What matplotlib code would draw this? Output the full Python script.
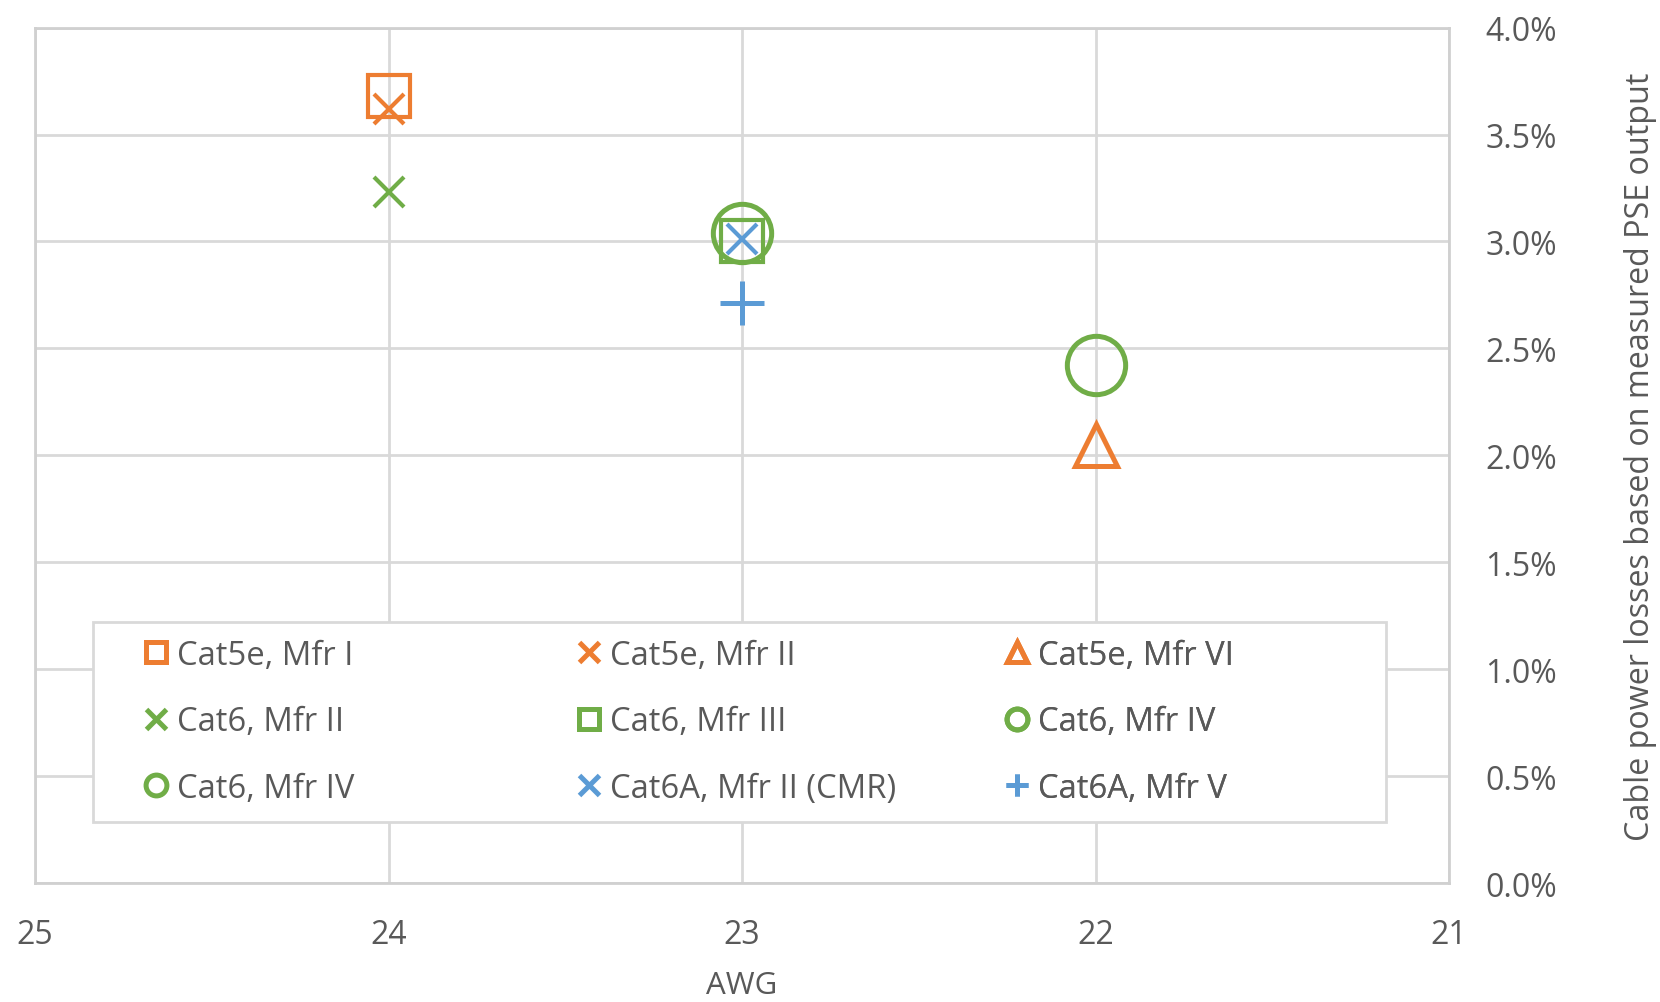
import matplotlib
matplotlib.use("Agg")
import matplotlib.pyplot as plt
from matplotlib.lines import Line2D
from matplotlib.patches import Rectangle

plt.rcParams['font.family'] = ['Open Sans', 'DejaVu Sans']

# Cable series: name, AWG, loss (% of measured PSE output)
series_names = ["Cat5e, Mfr I", "Cat5e, Mfr II", "Cat5e, Mfr VI",
                "Cat6, Mfr II", "Cat6, Mfr III", "Cat6, Mfr IV",
                "Cat6, Mfr IV", "Cat6A, Mfr II (CMR)", "Cat6A, Mfr V"]
awg = [24, 24, 22, 24, 23, 23, 22, 23, 23]
loss_pct = [3.68, 3.62, 2.05, 3.23, 3.00, 3.04, 2.42, 3.01, 2.71]

x_ticks = [25, 24, 23, 22, 21]
y_ticks = [0.0, 0.5, 1.0, 1.5, 2.0, 2.5, 3.0, 3.5, 4.0]

ORANGE = "#ED7D31"
GREEN = "#70AD47"
BLUE = "#5B9BD5"
TEXT = "#595959"
GRID = "#D9D9D9"

colors = [ORANGE, ORANGE, ORANGE, GREEN, GREEN, GREEN, GREEN, BLUE, BLUE]
markers = ["s", "x", "^", "x", "s", "o", "o", "x", "+"]
# marker sizes (pt) in the plot area and in the legend
plot_ms = [30, 22, 30, 22, 30, 42, 42, 22, 31]
leg_ms = [15, 15, 15, 15, 15, 15, 15, 15, 16]
mew_plot = [3.0, 3.0, 3.6, 3.0, 3.0, 3.6, 3.6, 3.0, 3.6]

fig = plt.figure(figsize=(16.6, 10.03), dpi=100)
ax = fig.add_axes([0.0211, 0.1186, 0.8518, 0.8529])

for name, xv, yv, c, m, ms, mw in zip(series_names, awg, loss_pct, colors,
                                      markers, plot_ms, mew_plot):
    ax.plot([xv], [yv], linestyle="none", marker=m, markersize=ms,
            markerfacecolor="none", markeredgecolor=c, markeredgewidth=mw,
            label=name, zorder=3)

ax.set_xlim(25, 21)
ax.set_ylim(0, 4)
ax.set_xticks(x_ticks)
ax.set_xticklabels([str(v) for v in x_ticks])
ax.set_yticks(y_ticks)
ax.set_yticklabels([f"{v:.1f}%" for v in y_ticks])
ax.yaxis.tick_right()
ax.grid(True, color=GRID, linewidth=2.0, zorder=0)
ax.set_axisbelow(True)
ax.tick_params(axis="both", length=0, labelsize=23, labelcolor=TEXT)
ax.tick_params(axis="y", pad=26)
ax.tick_params(axis="x", pad=25)
for sp in ax.spines.values():
    sp.set_color("#D0D0D0")
    sp.set_linewidth(2.0)

ax.set_xlabel("AWG", fontsize=22.5, color=TEXT)
ax.xaxis.label.set(va="baseline")
ax.xaxis.set_label_coords(0.5, -0.1280)
ax.set_ylabel("Cable power losses based on measured PSE output",
              fontsize=23.2, color=TEXT)
ax.yaxis.set_label_position("right")
ax.yaxis.label.set(rotation=90, ha="center", va="center",
                   rotation_mode="anchor")
ax.yaxis.set_label_coords(1.1353, 0.5)

# legend frame
ax.add_patch(Rectangle((0.041, 0.0718), 0.9145, 0.2339,
                       transform=ax.transAxes, facecolor="white",
                       edgecolor=GRID, linewidth=2.0, zorder=4))

# three legend columns, entries ordered row by row
col_x = [0.074, 0.380, 0.683]
for ci in range(3):
    idx = [ci, ci + 3, ci + 6]
    handles = [Line2D([], [], linestyle="none", marker=markers[i],
                      markersize=leg_ms[i], markerfacecolor="none",
                      markeredgecolor=colors[i], markeredgewidth=3.6)
               for i in idx]
    labels = [series_names[i] for i in idx]
    leg = ax.legend(handles, labels, loc="center left",
                    bbox_to_anchor=(col_x[ci], 0.1886),
                    bbox_transform=ax.transAxes, frameon=False,
                    fontsize=23.6, handlelength=1.0, handletextpad=0.15,
                    borderpad=0, borderaxespad=0, labelspacing=1.02,
                    labelcolor=TEXT)
    leg.set_zorder(5)
    ax.add_artist(leg)

fig.savefig("out.png", dpi=100, facecolor="white")
